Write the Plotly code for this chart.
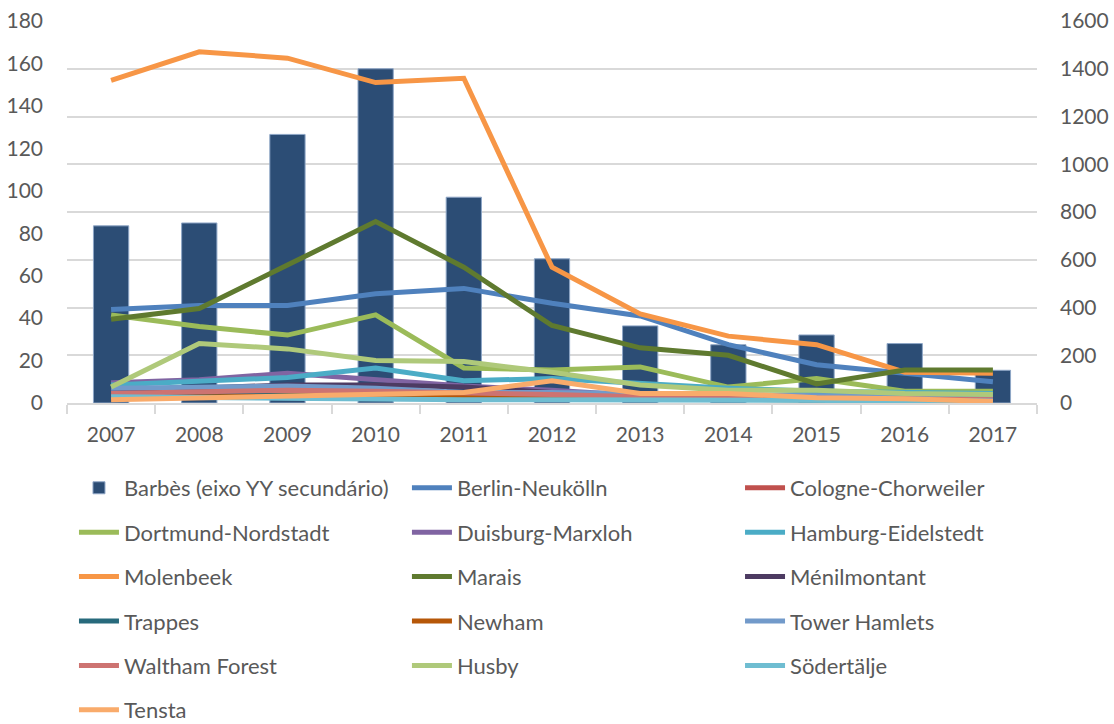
import plotly.graph_objects as go

years = ["2007", "2008", "2009", "2010", "2011", "2012", "2013", "2014", "2015", "2016", "2017"]

barbes = [742, 754, 1125, 1400, 862, 604, 323, 244, 285, 249, 137]

berlin_neukolln = [44, 46, 46, 51.5, 54, 47, 41, 27.5, 18, 14, 10]
cologne_chorweiler = [3, 3, 3.5, 4, 4, 3, 2.5, 2, 1.5, 1.5, 1]
dortmund_nordstadt = [41.5, 36, 32, 41.5, 16.5, 15.5, 17, 7.5, 11.5, 5.5, 5.5]
duisburg_marxloh = [9.5, 11, 14, 11, 8, 6, 3.5, 3, 2.5, 2.5, 2]
hamburg_eidelstedt = [8.5, 10.5, 12, 16.5, 10.5, 11.5, 9, 7, 5.5, 5, 4.5]
molenbeek = [152, 165.5, 162.5, 151, 153, 64, 42, 31.5, 27.5, 14.5, 14]
marais = [39.5, 44.5, 65, 85.5, 64, 36.5, 26, 22.5, 9, 15.5, 15.5]
menilmontant = [5.5, 7, 8.5, 8.5, 7.5, 5, 3, 2.5, 2, 2, 1.5]
trappes = [4, 4.5, 5, 5, 4.5, 3.5, 2.5, 2, 1.5, 1.5, 1]
newham = [2.5, 3, 3, 3.5, 3, 2.5, 2, 1.5, 1, 1, 1]
tower_hamlets = [7, 7.5, 8, 7, 5, 5, 4.5, 4, 3, 3, 2.5]
waltham_forest = [4.5, 5, 6, 5.5, 5, 4, 3, 2.5, 2, 2, 1.5]
husby = [7.5, 28, 25.5, 20, 19.5, 14.5, 8.5, 6, 6, 4.5, 4]
sodertalje = [3, 2.5, 2, 2, 1.5, 1.5, 1.5, 1.5, 1, 1, 1]
tensta = [1.5, 2.5, 3.5, 4, 5, 10.5, 4.5, 4.5, 2.5, 2, 0.7]

lines = [
    ("Berlin-Neukölln", berlin_neukolln, "#4F81BD", "legend2"),
    ("Cologne-Chorweiler", cologne_chorweiler, "#C0504D", "legend3"),
    ("Dortmund-Nordstadt", dortmund_nordstadt, "#9BBB59", "legend"),
    ("Duisburg-Marxloh", duisburg_marxloh, "#8064A2", "legend2"),
    ("Hamburg-Eidelstedt", hamburg_eidelstedt, "#4BACC6", "legend3"),
    ("Molenbeek", molenbeek, "#F79646", "legend"),
    ("Marais", marais, "#5F7A2F", "legend2"),
    ("Ménilmontant", menilmontant, "#4D3B62", "legend3"),
    ("Trappes", trappes, "#276A7C", "legend"),
    ("Newham", newham, "#B65708", "legend2"),
    ("Tower Hamlets", tower_hamlets, "#729ACA", "legend3"),
    ("Waltham Forest", waltham_forest, "#CD7371", "legend"),
    ("Husby", husby, "#AFC97A", "legend2"),
    ("Södertälje", sodertalje, "#6FBDD1", "legend3"),
    ("Tensta", tensta, "#F9AB6B", "legend"),
]

FONT = "Lato"
TXT = "#595959"
GRID = "#D9D9D9"

fig = go.Figure()
fig.add_trace(go.Bar(
    x=years, y=barbes, name="Barbès (eixo YY secundário)",
    marker=dict(color="#2C4D75", line=dict(color="#8EA6C6", width=1)),
    width=0.4, yaxis="y", legend="legend", legendgroup="g0",
))
for i, (name, vals, col, lg) in enumerate(lines):
    fig.add_trace(go.Scatter(
        x=years, y=vals, name=name, mode="lines",
        line=dict(color=col, width=5),
        yaxis="y2", legend=lg, legendgroup="g%d" % (i + 1),
    ))

leg_common = dict(
    orientation="v", xanchor="left", yanchor="top", y=0.355,
    xref="container", yref="container",
    font=dict(family=FONT, size=22, color=TXT),
    bgcolor="rgba(0,0,0,0)", tracegroupgap=12.8, itemwidth=40,
)

fig.update_layout(
    width=1114, height=724,
    margin=dict(l=67, r=77, t=21, b=321, autoexpand=False),
    paper_bgcolor="white", plot_bgcolor="white",
    font=dict(family=FONT, size=21, color=TXT),
    xaxis=dict(
        type="category", showgrid=False, showline=True, linecolor=GRID, linewidth=1.5,
        ticks="outside", tickson="boundaries", ticklen=9, tickcolor=GRID, tickwidth=1.5,
        tickfont=dict(family=FONT, size=21, color=TXT), ticklabelstandoff=12,
        automargin=False,
    ),
    yaxis=dict(
        side="right", range=[0, 1600], dtick=200, showgrid=True, gridcolor=GRID,
        gridwidth=1.5, zeroline=False, showline=False, automargin=False,
        tickfont=dict(family=FONT, size=21, color=TXT), ticklabelstandoff=22,
    ),
    yaxis2=dict(
        side="left", overlaying="y", range=[0, 180], dtick=20, showgrid=False,
        zeroline=False, showline=False, automargin=False,
        tickfont=dict(family=FONT, size=21, color=TXT), ticklabelstandoff=23,
    ),
    legend=dict(x=0.0664, **leg_common),
    legend2=dict(x=0.3653, **leg_common),
    legend3=dict(x=0.6643, **leg_common),
    showlegend=True,
)

fig.write_html(
    "out.html",
    config={"displayModeBar": False},
    post_script="document.body.style.margin='0px';document.body.style.padding='0px';",
)
